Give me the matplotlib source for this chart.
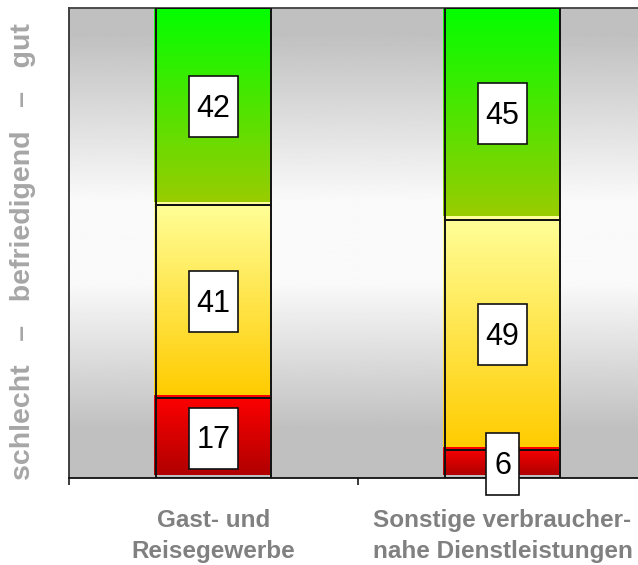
import numpy as np
import matplotlib
matplotlib.use('Agg')
import matplotlib.pyplot as plt
import matplotlib.transforms as mtransforms
from matplotlib.colors import LinearSegmentedColormap
from matplotlib.path import Path

plt.rcParams['font.family'] = ['Liberation Sans', 'DejaVu Sans']

categories = ['Gast- und\nReisegewerbe', 'Sonstige verbraucher-\nnahe Dienstleistungen']
schlecht = [17, 6]
befriedigend = [41, 49]
gut = [42, 45]

# gradient colours per segment: (bottom, top)
red_grad = ('#b00000', '#ff0000')
yellow_grad = ('#ffcc00', '#ffff99')
green_grad = ('#99cc00', '#00ff00')

bar_width = 0.4


def label_box(x0, y0, width, height, mutation_size):
    # white box, taller than the text needs, centred on the digits
    cx = x0 + width / 2
    cy = y0 + height / 2 + 0.065 * mutation_size
    hw = width / 2 + 0.25 * mutation_size
    hh = 1.0 * mutation_size
    verts = [(cx - hw, cy - hh), (cx + hw, cy - hh), (cx + hw, cy + hh),
             (cx - hw, cy + hh), (cx - hw, cy - hh)]
    return Path(verts, closed=True)


fig = plt.figure(figsize=(6.38, 5.65), dpi=100)
ax = fig.add_axes([69 / 638, 87 / 565, 578 / 638, 470 / 565])

# grey background, light in the middle
yy = np.linspace(0, 1, 400)
shade = np.interp(yy, [0, 0.10, 0.415, 0.59, 0.95, 1], [0.75, 0.75, 0.98, 0.98, 0.75, 0.75])
ax.imshow(shade.reshape(-1, 1), extent=(0, 1, 0, 1), transform=ax.transAxes,
          origin='lower', aspect='auto', cmap='gray', vmin=0, vmax=1, zorder=0)

# fills sit a little up-left of their outlines
shift = ax.transData + mtransforms.ScaledTranslation(-0.02, 0.03, fig.dpi_scale_trans)
grad = np.linspace(0, 1, 256).reshape(-1, 1)

x = np.arange(len(categories))
bottoms = np.zeros(len(categories))
for vals, cols in [(schlecht, red_grad), (befriedigend, yellow_grad), (gut, green_grad)]:
    cmap = LinearSegmentedColormap.from_list('seg', cols)
    for i, v in enumerate(vals):
        im = ax.imshow(grad, extent=(x[i] - bar_width / 2, x[i] + bar_width / 2,
                                     bottoms[i], bottoms[i] + v),
                       origin='lower', aspect='auto', cmap=cmap, zorder=2)
        im.set_transform(shift)
    ax.bar(x, vals, bottom=bottoms, width=bar_width, fill=False,
           edgecolor='#111111', linewidth=1.4, zorder=3)
    for i, v in enumerate(vals):
        ax.annotate(str(v), (x[i], bottoms[i] + v / 2), xytext=(0, -1.5),
                    textcoords='offset points', ha='center', va='center',
                    fontsize=22, color='black', zorder=6, annotation_clip=False,
                    bbox=dict(boxstyle=label_box, fc='white', ec='#111111', lw=1.2))
    bottoms += np.array(vals)

ax.set_xlim(-0.5, 1.5)
ax.set_ylim(0, 100)
ax.set_yticks([])
ax.set_xticks(x)
ax.set_xticklabels(categories, fontsize=17.5, fontweight='bold', color='#808080',
                   linespacing=1.45)
ax.set_xticks([-0.5, 0.5, 1.5], minor=True)
ax.tick_params(axis='x', which='major', length=0, pad=22)
ax.tick_params(axis='x', which='minor', length=5, width=1.2, color='#1a1a1a')

ax.spines['right'].set_visible(False)
ax.spines['left'].set_color('#333333')
ax.spines['top'].set_color('#404040')
ax.spines['bottom'].set_color('#111111')
for s in ['left', 'top', 'bottom']:
    ax.spines[s].set_linewidth(1.3)

fig.text(23 / 638, 313 / 565, 'schlecht   \u2013   befriedigend   \u2013   gut',
         rotation=90, ha='center', va='center', fontsize=20.5, fontweight='bold',
         color='#a6a6a6')

fig.savefig('out.png', dpi=100)
